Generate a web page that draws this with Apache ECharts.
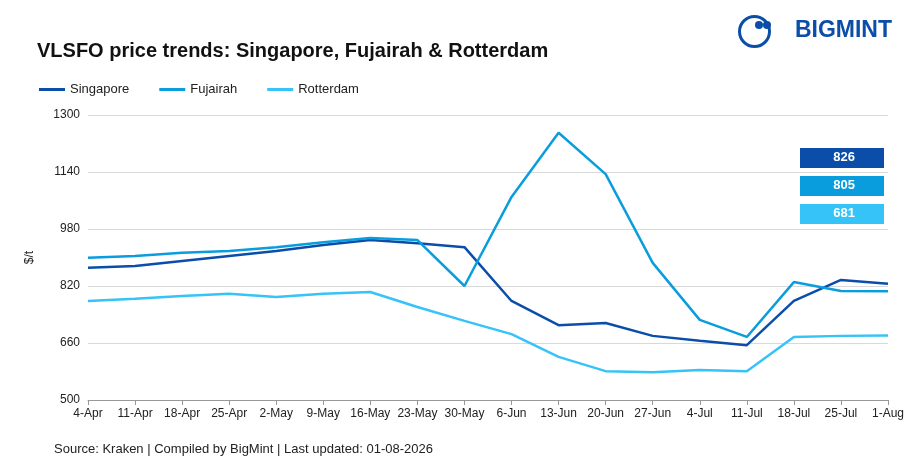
<!DOCTYPE html>
<html><head><meta charset="utf-8">
<script src="https://cdn.jsdelivr.net/npm/echarts@6/dist/echarts.min.js"></script>
<style>html,body{margin:0;padding:0;background:#fff}#c{width:910px;height:473px}</style>
</head><body><div id="c"></div>
<script>
// categories and series
var dates = ['4-Apr','11-Apr','18-Apr','25-Apr','2-May','9-May','16-May','23-May','30-May','6-Jun','13-Jun','20-Jun','27-Jun','4-Jul','11-Jul','18-Jul','25-Jul','1-Aug']
var singapore = [871,876,890,904,918,935,949,940,929,778,710,716,680,666,654,778,837,826]
var fujairah = [899,904,913,918,929,943,955,949,820,1070,1250,1134,885,725,677,831,806,805]
var rotterdam = [778,784,792,798,789,798,803,761,722,685,621,581,578,584,581,677,680,681]
var colors = ['#0b4ea9','#0a9ddd','#36c3f8']
var latest = [826,805,681]

var chart = echarts.init(document.getElementById('c'))

var line = function(name, data, color) {
	return {name: name, type: 'line', data: data, symbol: 'none',
		lineStyle: {width: 2.5, color: color}, itemStyle: {color: color}}
}

// latest value boxes
var boxes = []
latest.forEach(function(v, i) {
	boxes.push({type: 'rect', right: 26, top: 148 + i * 28, shape: {width: 84, height: 20}, style: {fill: colors[i]}})
	boxes.push({type: 'text', right: 55, top: 151 + i * 28,
		style: {text: String(v), fill: '#fff', font: 'bold 13px Arial', textAlign: 'center'}})
})

var option = {
	animation: false,
	textStyle: {fontFamily: 'Liberation Sans, Arial'},
	title: {text: 'VLSFO price trends: Singapore, Fujairah & Rotterdam', left: 32, top: 36,
		textStyle: {fontSize: 20, fontWeight: 'bold', color: '#111'}},
	legend: {left: 34, top: 78, itemWidth: 26, itemHeight: 3, itemGap: 30, icon: 'rect',
		textStyle: {fontSize: 13, color: '#222'}, data: ['Singapore','Fujairah','Rotterdam']},
	grid: {left: 88, right: 22, top: 115, bottom: 73},
	xAxis: {type: 'category', data: dates, boundaryGap: false,
		axisLine: {lineStyle: {color: '#999'}}, axisTick: {show: true, interval: 0, lineStyle: {color: '#999'}},
		axisLabel: {color: '#222', fontSize: 12, margin: 8, interval: 0}},
	yAxis: {type: 'value', min: 500, max: 1300, interval: 160, name: '$/t', nameLocation: 'middle', nameGap: 52,
		nameTextStyle: {fontSize: 12, color: '#222'},
		axisLabel: {color: '#222', fontSize: 12, formatter: function(v) { return String(v) }},
		splitLine: {lineStyle: {color: '#d9d9d9'}}},
	series: [line('Singapore', singapore, colors[0]), line('Fujairah', fujairah, colors[1]), line('Rotterdam', rotterdam, colors[2])],
	graphic: boxes.concat([
		{type: 'text', left: 54, top: 443, style: {text: 'Source: Kraken | Compiled by BigMint | Last updated: 01-08-2026', fill: '#222', font: '13px Arial'}},
		{type: 'circle', right: 138, top: 14, shape: {r: 15}, style: {fill: 'none', stroke: '#0b4ea9', lineWidth: 3}},
		{type: 'circle', right: 147, top: 21, shape: {r: 4}, style: {fill: '#0b4ea9'}},
		{type: 'circle', right: 139, top: 21, shape: {r: 4}, style: {fill: '#0b4ea9'}},
		{type: 'text', right: 18, top: 19, style: {text: 'BIGMINT', fill: '#0b4ea9', font: 'bold 23px Arial'}}
	])
}
chart.setOption(option)
</script></body></html>
